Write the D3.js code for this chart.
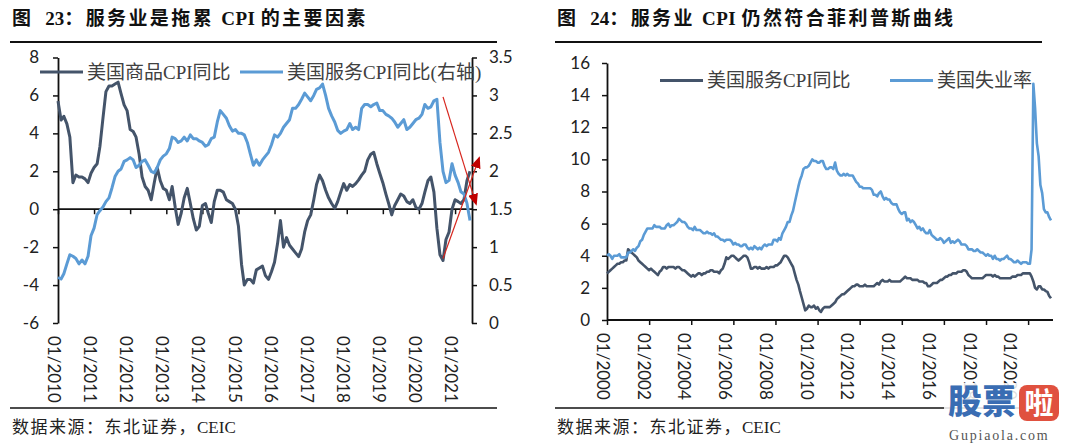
<!DOCTYPE html>
<html><head><meta charset="utf-8">
<script src="https://cdn.jsdelivr.net/npm/d3@7/dist/d3.min.js"></script>
<style>body{margin:0;background:#fff}svg{display:block}</style>
</head><body><svg id="c" width="1080" height="443"></svg>
<script>
// ---------- Figure 23 data (monthly from 2010-01) ----------
const leftStart = "2010-01";
const goodsCPI = [5.7,4.7,4.9,4.5,3.8,1.4,1.8,1.7,1.7,1.6,1.4,1.9,
2.2,2.4,3.3,4.8,6.2,6.5,6.5,6.6,6.7,6.1,5.5,5.2,
4.2,4.1,3.8,2.9,1.7,1.2,1.0,0.5,1.4,2.2,1.5,1.1,
1.0,0.5,1.2,0.1,-0.8,-0.2,0.6,1.1,0.3,-0.5,-1.1,-0.9,
0.2,0.3,-0.2,-0.7,0.4,1.0,1.0,0.9,0.5,0.4,0.3,0.0,
-0.9,-2.9,-4.0,-3.7,-3.7,-3.9,-3.2,-3.1,-3.0,-3.5,-3.7,-3.3,
-2.8,-1.8,-0.6,-2.0,-1.5,-1.9,-2.1,-2.3,-2.5,-2.1,-1.2,-0.6,
-0.3,0.5,1.3,1.8,1.5,1.0,0.6,0.3,0.05,0.4,0.9,1.35,
1.0,1.3,1.2,1.35,1.55,1.8,2.0,2.6,2.9,3.0,2.4,1.9,
1.4,0.8,0.3,-0.3,0.2,0.5,0.8,0.7,0.4,0.3,0.5,0.1,
0.0,0.3,0.9,1.5,1.7,0.9,-1.0,-2.4,-2.7,-1.6,-1.2,0.0,
0.5,0.4,0.3,0.5,1.5,2.0];
const servicesCPI = [0.60,0.58,0.65,0.78,0.90,0.88,0.85,0.78,0.83,0.78,0.88,1.15,
1.25,1.43,1.48,1.53,1.60,1.65,1.78,1.93,2.00,2.03,2.13,2.15,
2.18,2.15,2.05,2.08,2.13,2.15,2.08,2.00,1.98,2.05,2.15,2.20,
2.23,2.30,2.45,2.43,2.38,2.40,2.45,2.40,2.48,2.43,2.43,2.40,
2.38,2.33,2.35,2.43,2.45,2.65,2.80,2.75,2.70,2.60,2.53,2.55,
2.50,2.50,2.48,2.38,2.23,2.08,2.15,2.08,2.15,2.20,2.25,2.35,
2.48,2.45,2.50,2.58,2.63,2.68,2.83,2.83,2.88,2.95,3.03,2.98,
2.93,3.00,3.08,3.10,3.15,3.00,2.83,2.73,2.65,2.54,2.50,2.53,
2.55,2.63,2.55,2.58,2.55,2.83,2.88,2.88,2.85,2.88,2.90,2.80,
2.80,2.75,2.73,2.70,2.65,2.58,2.63,2.68,2.55,2.58,2.63,2.68,
2.70,2.75,2.88,2.83,2.85,2.93,2.95,2.38,2.00,1.85,1.88,2.10,
1.95,1.85,1.73,1.70,1.58,1.35];
const leftYears = [2010,2011,2012,2013,2014,2015,2016,2017,2018,2019,2020,2021];
const leftTicks = [-6,-4,-2,0,2,4,6,8];
const rightTicks = [0,0.5,1,1.5,2,2.5,3,3.5];
const leftNames = ["美国商品CPI同比","美国服务CPI同比(右轴)"];

// ---------- Figure 24 data (monthly from 2000-01) ----------
const rightStart = "2000-01";
const servicesCPI2 = [2.9,3.0,3.1,3.2,3.3,3.4,3.5,3.5,3.6,3.6,3.7,3.7,
4.4,4.3,4.2,4.1,4.0,3.9,3.7,3.6,3.5,3.4,3.3,3.2,
3.1,3.2,3.1,3.0,2.9,2.8,3.0,3.1,3.3,3.3,3.2,3.3,
3.3,3.3,3.3,3.2,3.3,3.3,3.2,3.1,3.1,3.0,2.9,2.8,
2.7,2.8,2.7,2.8,2.9,2.9,2.8,2.9,2.9,3.0,3.0,3.1,
3.1,3.0,3.0,3.0,2.9,3.1,3.2,3.5,3.9,3.8,3.9,4.0,
4.0,3.9,3.8,3.7,3.8,3.9,4.0,4.0,3.9,3.6,3.2,3.2,
3.3,3.3,3.2,3.3,3.2,3.2,3.2,3.3,3.2,3.3,3.3,3.3,
3.4,3.4,3.5,3.6,3.8,4.0,4.0,3.9,3.7,3.5,3.3,2.9,
2.5,2.2,1.8,1.4,1.0,0.6,0.7,0.9,0.8,0.8,0.9,0.7,
0.8,0.6,0.5,0.7,0.8,0.8,0.8,0.8,0.9,1.0,1.1,1.3,
1.4,1.5,1.6,1.6,1.7,1.8,1.9,2.0,2.1,2.1,2.2,2.2,
2.1,2.1,2.1,2.2,2.1,2.1,2.1,2.1,2.1,2.2,2.3,2.2,
2.4,2.5,2.4,2.4,2.4,2.5,2.4,2.4,2.4,2.4,2.4,2.4,
2.5,2.6,2.7,2.6,2.6,2.6,2.5,2.5,2.5,2.5,2.4,2.4,
2.4,2.3,2.3,2.1,2.1,2.2,2.3,2.3,2.3,2.4,2.5,2.5,
2.6,2.7,2.7,2.8,2.8,2.9,2.9,2.9,3.0,3.0,3.0,3.1,
3.1,3.0,2.8,2.7,2.6,2.6,2.6,2.6,2.6,2.6,2.6,2.7,
2.8,2.8,2.8,2.8,2.7,2.8,2.7,2.7,2.6,2.6,2.6,2.6,
2.6,2.6,2.6,2.7,2.7,2.7,2.8,2.8,2.8,2.9,2.9,2.9,
2.9,2.9,2.7,2.4,2.0,1.9,2.1,2.1,1.9,1.9,1.8,1.75,
1.5,1.35];
const unemployment = [4.0,4.1,4.0,3.8,4.0,4.0,4.0,4.1,3.9,3.9,3.9,3.9,
4.2,4.2,4.3,4.4,4.3,4.5,4.6,4.9,5.0,5.3,5.5,5.7,
5.7,5.7,5.7,5.9,5.8,5.8,5.8,5.7,5.7,5.7,5.9,6.0,
5.8,5.9,5.9,6.0,6.1,6.3,6.2,6.1,6.1,6.0,5.8,5.7,
5.7,5.6,5.8,5.6,5.6,5.6,5.5,5.4,5.4,5.5,5.4,5.4,
5.3,5.4,5.2,5.2,5.1,5.0,5.0,4.9,5.0,5.0,5.0,4.9,
4.7,4.8,4.7,4.7,4.6,4.6,4.7,4.7,4.5,4.4,4.5,4.4,
4.6,4.5,4.4,4.5,4.4,4.6,4.7,4.6,4.7,4.7,4.7,5.0,
5.0,4.9,5.1,5.0,5.4,5.6,5.8,6.1,6.1,6.5,6.8,7.3,
7.8,8.3,8.7,9.0,9.4,9.5,9.5,9.6,9.8,10.0,9.9,9.9,
9.8,9.8,9.9,9.9,9.6,9.4,9.4,9.5,9.5,9.4,9.8,9.3,
9.1,9.0,9.0,9.1,9.0,9.1,9.0,9.0,9.0,8.8,8.6,8.5,
8.3,8.3,8.2,8.2,8.2,8.2,8.2,8.1,7.8,7.8,7.7,7.9,
8.0,7.7,7.5,7.6,7.5,7.5,7.3,7.2,7.2,7.2,6.9,6.7,
6.6,6.7,6.7,6.2,6.3,6.1,6.2,6.1,5.9,5.7,5.8,5.6,
5.7,5.5,5.4,5.4,5.6,5.3,5.2,5.1,5.0,5.0,5.1,5.0,
4.8,4.9,5.0,5.1,4.8,4.9,4.8,4.9,5.0,4.9,4.7,4.7,
4.7,4.6,4.4,4.4,4.4,4.3,4.3,4.4,4.3,4.2,4.2,4.1,
4.0,4.1,4.0,4.0,3.8,4.0,3.8,3.8,3.7,3.8,3.8,3.9,
4.0,3.8,3.8,3.7,3.6,3.6,3.7,3.6,3.5,3.6,3.6,3.6,
3.5,3.5,4.4,14.7,13.2,11.0,10.2,8.4,7.9,6.9,6.7,6.7,
6.4,6.2];
const rightYears = [2000,2002,2004,2006,2008,2010,2012,2014,2016,2018,2020];
const r2Ticks = [0,2,4,6,8,10,12,14,16];
const rightNames = ["美国服务CPI同比","美国失业率"];

// ---------- drawing ----------
const svg = d3.select("#c");
const parse = d3.timeParse("%Y-%m");
const DARK = "#44546a", BLUE = "#5b9bd5";
const tickFont = "Lato, 'Open Sans', sans-serif";
const legFont = "'Liberation Serif', 'Noto Sans CJK SC', serif";
const cjkBold = "'Liberation Serif', 'Noto Sans CJK SC', sans-serif";

function monthDates(start, n){ const s = parse(start); return d3.range(n).map(i => d3.timeMonth.offset(s, i)); }

// titles and rules
function frame(x0, x1, parts){
  const t = svg.append("text").attr("x", x0+2).attr("y", 25)
    .attr("font-family", cjkBold).attr("font-weight", "bold").attr("font-size", 19).attr("fill", "#111");
  parts.forEach(p => t.append("tspan").text(p[0]).attr("letter-spacing", p[1]));
  svg.append("line").attr("x1", x0).attr("x2", x1).attr("y1", 42).attr("y2", 42).attr("stroke", "#111").attr("stroke-width", 2);
  svg.append("line").attr("x1", x0).attr("x2", x1).attr("y1", 408).attr("y2", 408).attr("stroke", "#111").attr("stroke-width", 1.6);
  const s = svg.append("text").attr("x", x0+2).attr("y", 433)
    .attr("font-family", "'Liberation Serif','Noto Sans CJK SC', serif").attr("font-size", 17).attr("fill", "#222");
  s.append("tspan").text("数据来源：东北证券，").attr("letter-spacing", 1.5);
  s.append("tspan").text("CEIC");
}
frame(10, 497, [["图\u2002 ", 0], ["23", 0], ["：服务业是拖累 ", 2.4], ["CPI ", 0.5], ["的主要因素", 2.4]]);
frame(555, 1042, [["图\u2002 ", 0], ["24", 0], ["：服务业 ", 2.4], ["CPI ", 0.5], ["仍然符合菲利普斯曲线", 2.4]]);

function styleAxis(g){
  g.selectAll("text").attr("font-family", tickFont).attr("font-size", 17).attr("fill", "#222");
  g.selectAll("line").attr("stroke", "#111").attr("stroke-width", 1.5);
  g.select(".domain").attr("stroke", "#111").attr("stroke-width", 1.8);
}

// ===== Left chart =====
const lDates = monthDates(leftStart, goodsCPI.length);
const xL = d3.scaleTime().domain([parse("2010-01"), parse("2021-06")]).range([58, 470]);
const yL = d3.scaleLinear().domain([-6, 8]).range([323, 57.5]);
const yR = d3.scaleLinear().domain([0, 3.5]).range([323, 57.5]);
const fmt = d => String(d);

svg.append("g").attr("transform", "translate(58,0)")
  .call(d3.axisLeft(yL).tickValues(leftTicks).tickSize(5).tickSizeOuter(0).tickPadding(14).tickFormat(fmt)).call(styleAxis);
svg.append("g").attr("transform", "translate(472,0)")
  .call(d3.axisRight(yR).tickValues(rightTicks).tickSize(5).tickSizeOuter(0).tickPadding(12).tickFormat(fmt)).call(styleAxis);
const lYearDates = leftYears.map(y => parse(y + "-01"));
const xAxL = svg.append("g").attr("transform", `translate(0,${yL(0)})`)
  .call(d3.axisBottom(xL).tickValues(lYearDates).tickSize(5).tickSizeOuter(0).tickFormat(""));
styleAxis(xAxL);
xAxL.select(".domain").attr("d", `M58,0H472`);
svg.append("g").selectAll("text").data(lYearDates).join("text")
  .attr("transform", d => `translate(${xL(d) - 4},336) rotate(90)`)
  .attr("dy", "0.35em").text(d => d3.timeFormat("%m/%Y")(d))
  .attr("font-family", tickFont).attr("font-size", 17).attr("fill", "#222");

svg.append("path").datum(goodsCPI)
  .attr("d", d3.line().x((d, i) => xL(lDates[i])).y(d => yL(d)))
  .attr("fill", "none").attr("stroke", DARK).attr("stroke-width", 3).attr("stroke-linejoin", "round");
svg.append("path").datum(servicesCPI)
  .attr("d", d3.line().x((d, i) => xL(lDates[i])).y(d => yR(d)))
  .attr("fill", "none").attr("stroke", BLUE).attr("stroke-width", 3).attr("stroke-linejoin", "round");

// annotation arrows
const defs = svg.append("defs");
defs.append("marker").attr("id", "ah").attr("viewBox", "0 0 12 10").attr("refX", 10).attr("refY", 5)
  .attr("markerWidth", 12).attr("markerHeight", 10).attr("markerUnits", "userSpaceOnUse").attr("orient", "auto")
  .append("path").attr("d", "M0,0L12,5L0,10z").attr("fill", "#c00000");
svg.append("line").attr("x1", xL(parse("2020-09"))).attr("y1", yR(2.98))
  .attr("x2", xL(parse("2021-08"))).attr("y2", yR(1.57))
  .attr("stroke", "#d7261e").attr("stroke-width", 1.2).attr("marker-end", "url(#ah)");
svg.append("line").attr("x1", xL(parse("2020-09"))).attr("y1", yL(-2.6))
  .attr("x2", xL(parse("2021-09"))).attr("y2", yL(2.7))
  .attr("stroke", "#d7261e").attr("stroke-width", 1.2).attr("marker-end", "url(#ah)");

// legends
function legend(items, y){
  items.forEach(it => {
    svg.append("line").attr("x1", it.x).attr("x2", it.x + 43).attr("y1", y).attr("y2", y)
      .attr("stroke", it.c).attr("stroke-width", 3);
    svg.append("text").attr("x", it.x + 47).attr("y", y + 6.5).text(it.t)
      .attr("font-family", legFont).attr("font-size", 19).attr("fill", "#404040");
  });
}
legend([{x: 40, c: DARK, t: leftNames[0]}, {x: 240, c: BLUE, t: leftNames[1]}], 72);

// ===== Right chart =====
const rDates = monthDates(rightStart, unemployment.length);
const xR = d3.scaleTime().domain([parse("2000-01"), parse("2021-02")]).range([607, 1051]);
const yR2 = d3.scaleLinear().domain([0, 16]).range([320, 63]);
svg.append("g").attr("transform", "translate(607,0)")
  .call(d3.axisLeft(yR2).tickValues(r2Ticks).tickSize(5).tickSizeOuter(0).tickPadding(12).tickFormat(fmt)).call(styleAxis);
const rYearDates = rightYears.map(y => parse(y + "-01"));
const xAxR = svg.append("g").attr("transform", "translate(0,320)")
  .call(d3.axisBottom(xR).tickValues(rYearDates).tickSize(5).tickSizeOuter(0).tickFormat(""));
styleAxis(xAxR);
xAxR.select(".domain").attr("d", "M607,0H1053");
svg.append("g").selectAll("text").data(rYearDates).join("text")
  .attr("transform", d => `translate(${607 + (xR(d) - 607) * 0.967 - 4},333) rotate(90)`)
  .attr("dy", "0.35em").text(d => d3.timeFormat("%m/%Y")(d))
  .attr("font-family", tickFont).attr("font-size", 17).attr("fill", "#222");

svg.append("path").datum(servicesCPI2)
  .attr("d", d3.line().x((d, i) => xR(rDates[i])).y(d => yR2(d)))
  .attr("fill", "none").attr("stroke", DARK).attr("stroke-width", 2.6).attr("stroke-linejoin", "round");
svg.append("path").datum(unemployment)
  .attr("d", d3.line().x((d, i) => xR(rDates[i])).y(d => yR2(d)))
  .attr("fill", "none").attr("stroke", BLUE).attr("stroke-width", 2.6).attr("stroke-linejoin", "round");
legend([{x: 660, c: DARK, t: rightNames[0]}, {x: 890, c: BLUE, t: rightNames[1]}], 80.5);

// watermark
const wm = svg.append("g");
wm.append("rect").attr("x", 944).attr("y", 383).attr("width", 136).attr("height", 60).attr("fill", "#fff").attr("opacity", 0.85);
wm.append("text").attr("x", 948).attr("y", 414).text("股票")
  .attr("font-family", "'Noto Sans CJK SC'").attr("font-weight", 900).attr("font-size", 34).attr("fill", "#3a6db3");
wm.append("rect").attr("x", 1019).attr("y", 385).attr("width", 40).attr("height", 36).attr("rx", 8).attr("fill", "#e0513f");
wm.append("text").attr("x", 1039).attr("y", 414).attr("text-anchor", "middle").text("啦")
  .attr("font-family", "'Noto Sans CJK SC'").attr("font-weight", 700).attr("font-size", 29).attr("fill", "#fff");
wm.append("text").attr("x", 949).attr("y", 440).text("Gupiaola.com")
  .attr("font-family", "'Liberation Serif', serif").attr("font-size", 14).attr("fill", "#555")
  .attr("letter-spacing", 1.8);
</script></body></html>
